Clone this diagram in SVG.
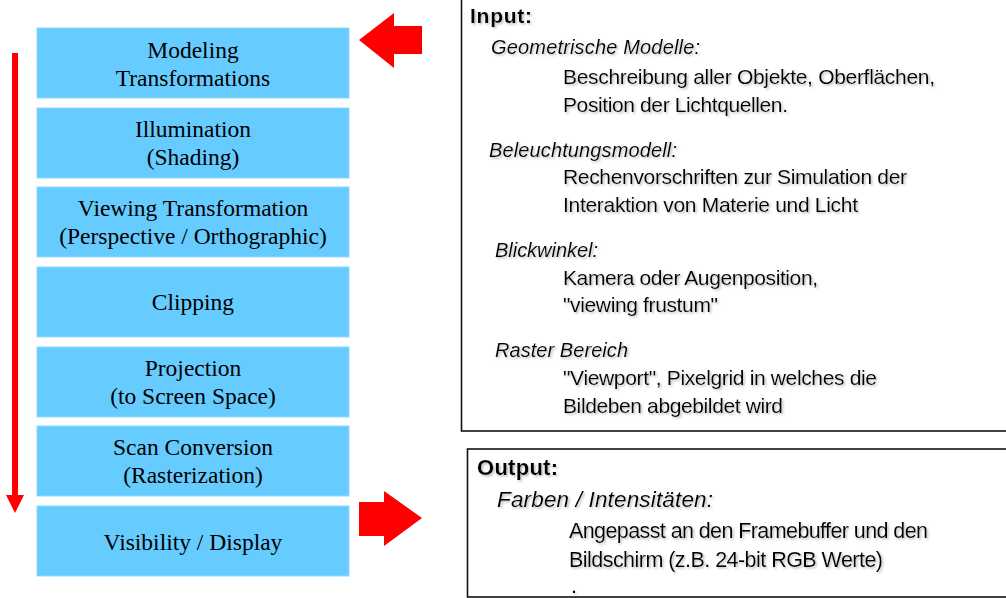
<svg xmlns="http://www.w3.org/2000/svg" width="1006" height="598" viewBox="0 0 1006 598">
<style>
.box{fill:#66CCFF;stroke:#8fd8ff;stroke-width:1}
.st{font-family:"Liberation Serif","Times New Roman",serif;font-size:23.5px;fill:#000;text-anchor:middle}
.sans{font-family:"Liberation Sans",Arial,sans-serif;fill:#000;filter:url(#sh)}
.b{font-weight:bold}
.i{font-style:italic}
.frame{fill:#fff;stroke:#111;stroke-width:1.6}
.red{fill:#FF0000}
</style>
<defs>
<filter id="sh" x="-5%" y="-30%" width="110%" height="160%">
<feDropShadow dx="1.5" dy="1.5" stdDeviation="0.8" flood-color="#aaa" flood-opacity="0.8"/>
</filter>
</defs>
<rect width="1006" height="598" fill="#fff"/>
<g id="connectors">
<rect class="red" x="12" y="53" width="6" height="443"/>
<polygon class="red" points="6,495 24,495 15,513"/>
<polygon id="arrow-in" class="red" points="359,40 394,13 394,26 422,26 422,54 394,54 394,68"/>
<polygon id="arrow-out" class="red" points="359,502 384,502 384,491 422,518 384,546 384,536 359,536"/>
</g>
<g id="n1"><rect class="box" x="37" y="28" width="312" height="70"/><text class="st" x="193" y="58">Modeling</text><text class="st" x="193" y="86">Transformations</text></g>
<g id="n2"><rect class="box" x="37" y="108" width="312" height="70"/><text class="st" x="193" y="137">Illumination</text><text class="st" x="193" y="165">(Shading)</text></g>
<g id="n3"><rect class="box" x="37" y="187" width="312" height="70"/><text class="st" x="193" y="216">Viewing Transformation</text><text class="st" x="193" y="244">(Perspective / Orthographic)</text></g>
<g id="n4"><rect class="box" x="37" y="267" width="312" height="70"/><text class="st" x="193" y="310">Clipping</text></g>
<g id="n5"><rect class="box" x="37" y="347" width="312" height="70"/><text class="st" x="193" y="376">Projection</text><text class="st" x="193" y="404">(to Screen Space)</text></g>
<g id="n6"><rect class="box" x="37" y="426" width="312" height="70"/><text class="st" x="193" y="455">Scan Conversion</text><text class="st" x="193" y="483">(Rasterization)</text></g>
<g id="n7"><rect class="box" x="37" y="506" width="312" height="70"/><text class="st" x="193" y="550">Visibility / Display</text></g>
<g id="input">
<rect class="frame" x="461.5" y="-5" width="560" height="436"/>
<text class="sans b" x="470" y="23" font-size="21" textLength="62">Input:</text>
<text class="sans i" x="491" y="54" font-size="20" textLength="209">Geometrische Modelle:</text>
<text class="sans" x="563" y="84" font-size="21" textLength="372">Beschreibung aller Objekte, Oberflächen,</text>
<text class="sans" x="563" y="112" font-size="21" textLength="225">Position der Lichtquellen.</text>
<text class="sans i" x="489" y="157" font-size="20" textLength="188">Beleuchtungsmodell:</text>
<text class="sans" x="563" y="184" font-size="21" textLength="344">Rechenvorschriften zur Simulation der</text>
<text class="sans" x="563" y="212" font-size="21" textLength="295">Interaktion von Materie und Licht</text>
<text class="sans i" x="495" y="257" font-size="20" textLength="103">Blickwinkel:</text>
<text class="sans" x="563" y="285" font-size="21" textLength="255">Kamera oder Augenposition,</text>
<text class="sans" x="563" y="312" font-size="21" textLength="155">"viewing frustum"</text>
<text class="sans i" x="495" y="357" font-size="20" textLength="133">Raster Bereich</text>
<text class="sans" x="563" y="385" font-size="21" textLength="314">"Viewport", Pixelgrid in welches die</text>
<text class="sans" x="563" y="413" font-size="21" textLength="220">Bildeben abgebildet wird</text>
</g>
<g id="output">
<rect class="frame" x="467.5" y="449" width="560" height="148"/>
<text class="sans b" x="477" y="475" font-size="22" textLength="81">Output:</text>
<text class="sans i" x="497" y="507" font-size="22.5" textLength="216">Farben / Intensitäten:</text>
<text class="sans" x="569" y="538" font-size="21.5" textLength="359">Angepasst an den Framebuffer und den</text>
<text class="sans" x="569" y="567" font-size="21.5" textLength="314">Bildschirm (z.B. 24-bit RGB Werte)</text>
<text class="sans" x="571" y="593" font-size="21.5">.</text>
</g>
</svg>
